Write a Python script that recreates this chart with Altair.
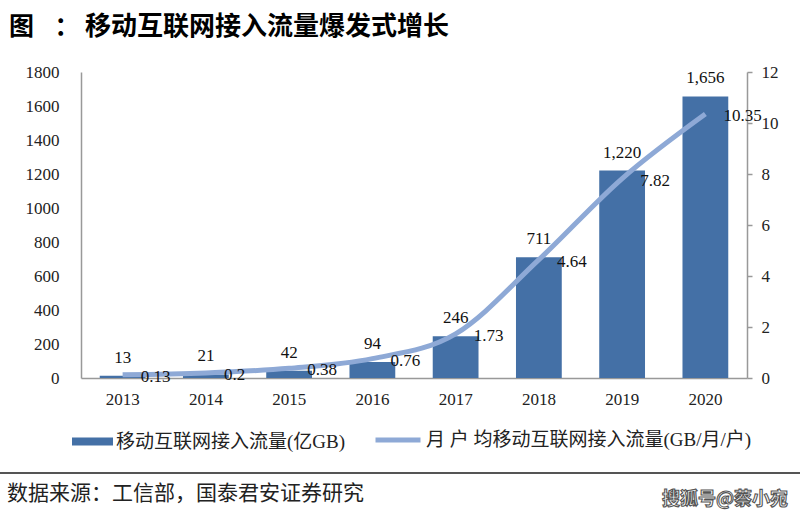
import altair as alt
import pandas as pd

years = ["2013", "2014", "2015", "2016", "2017", "2018", "2019", "2020"]
traffic = [13, 21, 42, 94, 246, 711, 1220, 1656]
per_user = [0.13, 0.2, 0.38, 0.76, 1.73, 4.64, 7.82, 10.35]
per_user_labels = ["0.13", "0.2", "0.38", "0.76", "1.73", "4.64", "7.82", "10.35"]
series_bar = "移动互联网接入流量(亿GB)"
series_line = "月 户 均移动互联网接入流量(GB/月/户)"

df = pd.DataFrame({
    "year": years,
    "traffic": traffic,
    "per_user": per_user,
    "pu_label": per_user_labels,
    "s1": series_bar,
    "s2": series_line,
})

SERIF = "Liberation Serif, Times New Roman, Noto Sans CJK SC"
CJK = "Noto Sans CJK SC"
BAR_COLOR = "#4470A6"
LINE_COLOR = "#8EA9D6"

base = alt.Chart(df)
x = alt.X("year:N", sort=years, title=None,
          scale=alt.Scale(paddingInner=0.45, paddingOuter=0.225),
          axis=alt.Axis(labelAngle=0, ticks=False, domainColor="#999999",
                        domainWidth=1.5, labelFont=SERIF, labelFontSize=17,
                        labelColor="#222222", labelPadding=13))

y1_scale = alt.Scale(domain=[0, 1800], nice=False)
y2_scale = alt.Scale(domain=[0, 12], nice=False)

y1_axis = alt.Axis(values=list(range(0, 1801, 200)), format="d", grid=False, ticks=False,
                   domainColor="#999999", domainWidth=1.5, labelFont=SERIF,
                   labelFontSize=17, labelColor="#222222", labelPadding=22)
y2_axis = alt.Axis(orient="right", values=list(range(0, 13, 2)), format="d", grid=False,
                   tickSize=5, tickColor="#999999", tickWidth=1.5,
                   domainColor="#999999", domainWidth=1.5, labelFont=SERIF,
                   labelFontSize=17, labelColor="#222222", labelPadding=9)

bars = base.mark_bar().encode(
    x=x,
    y=alt.Y("traffic:Q", scale=y1_scale, title=None, axis=y1_axis),
    fill=alt.Fill("s1:N", scale=alt.Scale(range=[BAR_COLOR]),
                  legend=alt.Legend(orient="none", legendX=-9, legendY=349, title=None,
                                    symbolType="M-1,-0.2H1V0.2H-1Z", symbolSize=1681,
                                    symbolStrokeWidth=0, labelFont=SERIF, labelFontSize=19,
                                    labelColor="#222222", padding=0, labelOffset=3,
                                    labelLimit=0)),
)
bar_text = base.mark_text(baseline="bottom", dy=-9, font=SERIF, fontSize=17,
                          color="#111111").encode(
    x=alt.X("year:N", sort=years),
    y=alt.Y("traffic:Q", scale=y1_scale, title=None, axis=y1_axis),
    text=alt.Text("traffic:Q", format=","),
)
left = alt.layer(bars, bar_text)

line = base.mark_line(interpolate="monotone", strokeWidth=5).encode(
    x=alt.X("year:N", sort=years),
    y=alt.Y("per_user:Q", scale=y2_scale, title=None, axis=y2_axis),
    stroke=alt.Stroke("s2:N", scale=alt.Scale(range=[LINE_COLOR]),
                      legend=alt.Legend(orient="none", legendX=292, legendY=343, title=None,
                                        symbolType="stroke", symbolSize=2025,
                                        symbolStrokeWidth=5, labelFont=SERIF,
                                        labelFontSize=19, labelColor="#222222",
                                        padding=0, labelOffset=3, labelLimit=0)),
)
line_text = base.mark_text(align="left", baseline="middle", dx=18, dy=2, font=SERIF,
                           fontSize=17, color="#111111").encode(
    x=alt.X("year:N", sort=years),
    y=alt.Y("per_user:Q", scale=y2_scale, title=None, axis=y2_axis),
    text="pu_label:N",
)
right = alt.layer(line, line_text)

one = alt.Data(values=[{}])
title_fig = alt.Chart(one).mark_text(text="图", font=CJK, fontSize=25, fontWeight="bold",
                                     align="left", baseline="middle", color="#000000").encode(
    x=alt.value(-72), y=alt.value(-45))
title_colon = alt.Chart(one).mark_text(text="：", font=CJK, fontSize=25, fontWeight="bold",
                                       align="center", baseline="middle", color="#000000").encode(
    x=alt.value(-14), y=alt.value(-45))
title_main = alt.Chart(one).mark_text(text="移动互联网接入流量爆发式增长", font=CJK, fontSize=26,
                                      fontWeight="bold", align="left", baseline="middle",
                                      color="#000000").encode(
    x=alt.value(4), y=alt.value(-45))
bottom_rule = alt.Chart(one).mark_rule(color="#555555", strokeWidth=2).encode(
    x=alt.value(-81), x2=alt.value(719), y=alt.value(401))
source = alt.Chart(one).mark_text(text="数据来源：工信部，国泰君安证券研究", font=CJK, fontSize=21,
                                  align="left", baseline="middle", color="#222222").encode(
    x=alt.value(-74), y=alt.value(422))
watermark = alt.Chart(one).mark_text(text="搜狐号@蔡小宛", font=CJK, fontSize=18,
                                     fontWeight="bold", align="center", baseline="middle",
                                     fill="#ffffff", stroke="#555555", strokeWidth=1.1).encode(
    x=alt.value(644), y=alt.value(428))

chart = alt.layer(left, right, title_fig, title_colon, title_main, bottom_rule, source,
                  watermark).resolve_scale(y="independent", fill="independent",
                                           stroke="independent").properties(
    width=666, height=306,
    autosize=alt.AutoSizeParams(type="none"),
    padding={"left": 81, "top": 72, "right": 53, "bottom": 140},
    background="white",
).configure_view(stroke=None)

chart.save("out.html", embed_options={"renderer": "svg", "actions": False})
